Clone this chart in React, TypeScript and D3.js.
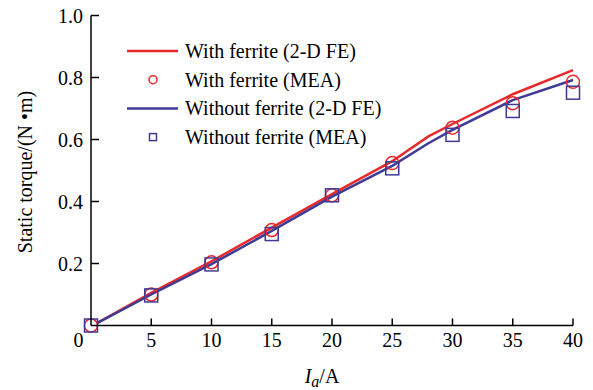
import React from "react";
import * as d3 from "d3";

const width = 593;
const height = 390;
const margin = { left: 91, right: 20, top: 15.5, bottom: 64.5 };

const xTicks = [5, 10, 15, 20, 25, 30, 35, 40];
const yTicks = [0.2, 0.4, 0.6, 0.8, 1.0];

// 2-D FE curves
const feCurrent = [0.5, 5, 10, 15, 20, 25, 28, 30, 35, 40];
const withFerriteFE = [0.008, 0.105, 0.207, 0.316, 0.424, 0.53, 0.61, 0.65, 0.746, 0.824];
const withoutFerriteFE = [0.008, 0.1, 0.198, 0.305, 0.416, 0.515, 0.588, 0.631, 0.727, 0.792];

// MEA points
const meaCurrent = [0, 5, 10, 15, 20, 25, 30, 35, 40];
const withFerriteMEA = [0.0, 0.1, 0.204, 0.308, 0.42, 0.524, 0.638, 0.717, 0.786];
const withoutFerriteMEA = [0.0, 0.097, 0.197, 0.295, 0.42, 0.507, 0.615, 0.692, 0.751];

const red = "#e8292b";
const blue = "#3d3b93";
const font = "'Liberation Serif', 'Times New Roman', serif";

const x = d3.scaleLinear().domain([0, 40]).range([margin.left, width - margin.right - 0.0 - (width - margin.right - 573)]);
const y = d3.scaleLinear().domain([0, 1]).range([height - margin.bottom, margin.top]);

const line = d3
  .line<[number, number]>()
  .x((d) => x(d[0]))
  .y((d) => y(d[1]));

const zip = (a: number[], b: number[]): [number, number][] => a.map((v, i) => [v, b[i]]);

const legend = [
  { label: "With ferrite (2-D FE)", type: "line", color: red },
  { label: "With ferrite (MEA)", type: "circle", color: red },
  { label: "Without ferrite (2-D FE)", type: "line", color: blue },
  { label: "Without ferrite (MEA)", type: "square", color: blue },
];

export default function App() {
  const x0 = x(0);
  const y0 = y(0);
  return (
    <svg width={width} height={height} style={{ position: "absolute", left: 0, top: 0, background: "#fff" }} fontFamily={font}>
      {/* lines */}
      <path d={line(zip(feCurrent, withFerriteFE)) || ""} fill="none" stroke={red} strokeWidth={2.5} />
      <path d={line(zip(feCurrent, withoutFerriteFE)) || ""} fill="none" stroke={blue} strokeWidth={2.5} />

      {/* markers */}
      {meaCurrent.map((c, i) => (
        <circle key={"c" + i} cx={x(c)} cy={y(withFerriteMEA[i])} r={6.5} fill="none" stroke={red} strokeWidth={1.5} />
      ))}
      {meaCurrent.map((c, i) => (
        <rect key={"s" + i} x={x(c) - 6.5} y={y(withoutFerriteMEA[i]) - 6.5} width={13} height={13} fill="none" stroke={blue} strokeWidth={1.5} />
      ))}

      {/* axes */}
      <line x1={x0} x2={x0} y1={y(1)} y2={y0} stroke="#000" strokeWidth={1.5} />
      <line x1={x0} x2={x(40)} y1={y0} y2={y0} stroke="#000" strokeWidth={1.5} />
      {yTicks.map((t) => (
        <g key={t}>
          <line x1={x0} x2={x0 + 8} y1={y(t)} y2={y(t)} stroke="#000" strokeWidth={1.5} />
          <text x={x0 - 8} y={y(t)} dy="0.35em" textAnchor="end" fontSize={20}>
            {t.toFixed(1)}
          </text>
        </g>
      ))}
      {xTicks.map((t) => (
        <g key={t}>
          <line x1={x(t)} x2={x(t)} y1={y0} y2={y0 - 7} stroke="#000" strokeWidth={1.5} />
          <text x={x(t)} y={347} textAnchor="middle" fontSize={20}>
            {t}
          </text>
        </g>
      ))}
      <text x={x0 - 12.5} y={347} textAnchor="middle" fontSize={20}>
        0
      </text>

      {/* axis labels */}
      <text x={322} y={383} textAnchor="middle" fontSize={20}>
        <tspan fontStyle="italic">I</tspan>
        <tspan fontStyle="italic" fontSize={16} dy={4}>a</tspan>
        <tspan dy={-4}>/A</tspan>
      </text>
      <text transform={`translate(32,172) rotate(-90)`} textAnchor="middle" fontSize={20}>
        Static torque/(N •m)
      </text>

      {/* legend */}
      {legend.map((l, i) => {
        const ly = 51 + i * 28.7;
        return (
          <g key={l.label}>
            {l.type === "line" && <line x1={127} x2={178} y1={ly} y2={ly} stroke={l.color} strokeWidth={2.5} />}
            {l.type === "circle" && <circle cx={153} cy={ly} r={4} fill="none" stroke={l.color} strokeWidth={1.5} />}
            {l.type === "square" && <rect x={149.5} y={ly - 3.5} width={7} height={7} fill="none" stroke={l.color} strokeWidth={1.5} />}
            <text x={185} y={ly} dy="0.35em" fontSize={20}>
              {l.label}
            </text>
          </g>
        );
      })}
    </svg>
  );
}
